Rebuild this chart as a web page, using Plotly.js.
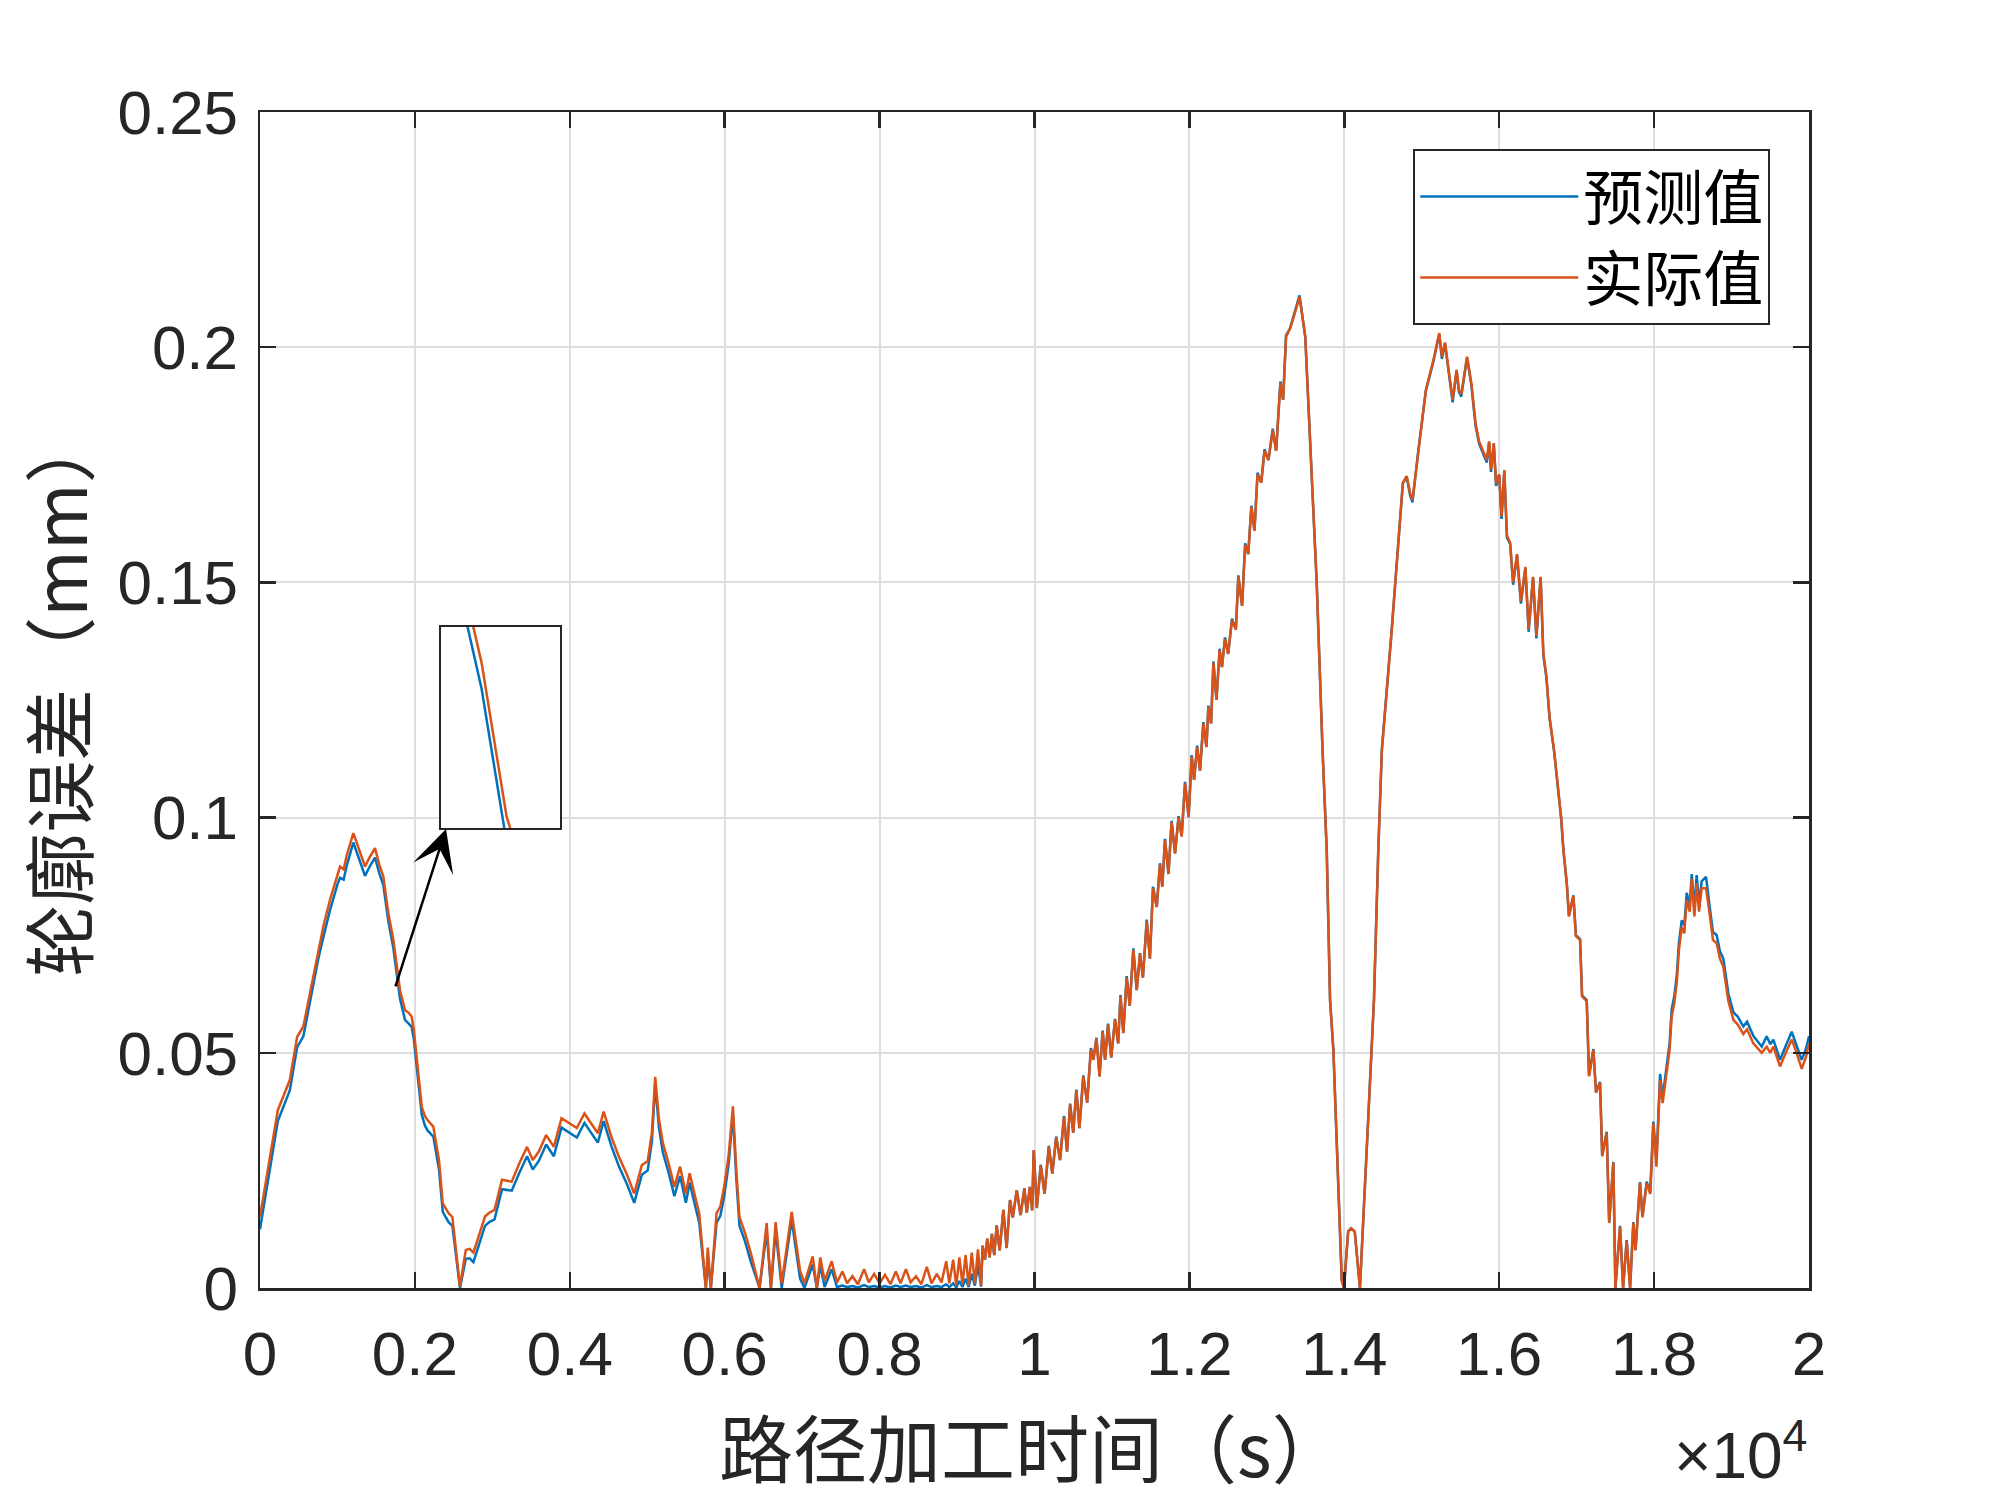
<!DOCTYPE html>
<html>
<head>
<meta charset="utf-8">
<script src="https://cdn.plot.ly/plotly-3.0.1.min.js"></script>
<style>html,body{margin:0;padding:0;background:#fff;}#chart{width:2000px;height:1500px;}</style>
</head>
<body>
<div id="chart"></div>
<script>
// ---- data (time in s, contour error in mm) ----
var seriesNames = ['预测值', '实际值'];
var xTickVals = [0, 2000, 4000, 6000, 8000, 10000, 12000, 14000, 16000, 18000, 20000];
var xTickText = ['0', '0.2', '0.4', '0.6', '0.8', '1', '1.2', '1.4', '1.6', '1.8', '2'];
var yTickVals = [0, 0.05, 0.1, 0.15, 0.2, 0.25];
var yTickText = ['0', '0.05', '0.1', '0.15', '0.2', '0.25'];

// Section A: 0 - 7400 s
var timeA = [0,90,230,385,480,560,645,750,817,904,1000,1033,1080,1120,1205,1280,1356,1420,1485,1540,
  1592,1657,1722,1808,1872,1920,1958,1985,2023,2060,2089,2130,2163,2238,2311,2360,2435,2484,2582,2657,
  2707,2756,2905,2960,3028,3125,3250,3349,3448,3522,3600,3695,3794,3893,3992,4091,4189,4280,4362,4437,
  4540,4634,4740,4832,4930,5006,5060,5103,5150,5202,5276,5350,5424,5499,5548,5610,5671,5757,5781,5821,
  5895,5943,5993,6050,6106,6150,6190,6264,6339,6450,6542,6597,6658,6736,6865,6973,7030,7136,7190,7234,
  7290,7381];
var actualA = [0.0151,0.0237,0.0378,0.0442,0.0534,0.0556,0.0627,0.0719,0.0768,0.0825,0.0880,0.0896,0.0890,0.0920,0.0967,0.0930,0.0896,0.0917,0.0935,0.0900,
  0.0875,0.0797,0.0740,0.0633,0.0591,0.0585,0.0577,0.0550,0.0485,0.0430,0.0385,0.0365,0.0357,0.0343,0.0272,0.0180,0.0159,0.0151,0.0003,0.0081,
  0.0083,0.0075,0.0152,0.0160,0.0166,0.0230,0.0226,0.0265,0.0300,0.0272,0.0290,0.0325,0.0300,0.0361,0.0350,0.0340,0.0371,0.0350,0.0329,0.0375,
  0.0320,0.0279,0.0240,0.0201,0.0261,0.0270,0.0330,0.0449,0.0360,0.0308,0.0265,0.0215,0.0258,0.0201,0.0244,0.0200,0.0159,0.0000,0.0086,0.0000,
  0.0159,0.0173,0.0215,0.0280,0.0386,0.0250,0.0151,0.0116,0.0073,0.0000,0.0138,0.0000,0.0140,0.0010,0.0162,0.0037,0.0010,0.0067,0.0000,0.0065,
  0.0015,0.0057];
var predictedA = [0.0125,0.0215,0.0355,0.0420,0.0512,0.0535,0.0605,0.0698,0.0745,0.0803,0.0858,0.0872,0.0868,0.0898,0.0947,0.0910,0.0876,0.0897,0.0915,0.0882,
  0.0857,0.0780,0.0722,0.0615,0.0570,0.0562,0.0555,0.0530,0.0465,0.0412,0.0368,0.0345,0.0335,0.0322,0.0252,0.0162,0.0140,0.0132,0.0000,0.0062,
  0.0063,0.0055,0.0132,0.0140,0.0146,0.0210,0.0207,0.0245,0.0280,0.0252,0.0270,0.0305,0.0280,0.0341,0.0330,0.0320,0.0351,0.0330,0.0309,0.0355,
  0.0300,0.0259,0.0220,0.0181,0.0241,0.0250,0.0312,0.0435,0.0342,0.0288,0.0245,0.0195,0.0238,0.0181,0.0224,0.0180,0.0139,0.0000,0.0066,0.0000,
  0.0139,0.0153,0.0195,0.0262,0.0370,0.0232,0.0133,0.0098,0.0055,0.0000,0.0120,0.0000,0.0122,0.0000,0.0145,0.0020,0.0000,0.0050,0.0000,0.0048,
  0.0002,0.0040];

// Section B: 7400 - 9310 s (near-zero noise)
var timeB = [7450,7520,7580,7650,7720,7800,7860,7930,8000,8070,8140,8210,8270,8340,8400,8470,8540,8610,8670,8740,
  8800,8860,8900,8950,8990,9030,9070,9110,9150,9190,9230,9270,9310];
var actualB = [0.0012,0.0035,0.0010,0.0025,0.0008,0.0040,0.0012,0.0030,0.0010,0.0028,0.0008,0.0035,0.0010,0.0040,0.0012,0.0025,0.0008,0.0045,0.0010,0.0030,
  0.0012,0.0057,0.0010,0.0060,0.0005,0.0065,0.0008,0.0070,0.0005,0.0075,0.0010,0.0082,0.0005];
var predictedB = [0.0002,0.0005,0.0002,0.0004,0.0001,0.0006,0.0002,0.0004,0.0001,0.0004,0.0001,0.0005,0.0002,0.0005,0.0002,0.0004,0.0001,0.0006,0.0002,0.0004,
  0.0002,0.0008,0.0002,0.0010,0.0001,0.0015,0.0002,0.0020,0.0002,0.0030,0.0005,0.0050,0.0003];

// Section C: 9330 - 17990 s (the two big lobes)
var timeC = [9330,9360,9390,9420,9450,9480,9512,9550,9598,9640,9684,9720,9771,9820,9870,9900,9940,9970,9990,10030,
  10080,10130,10185,10230,10280,10330,10381,10420,10460,10500,10540,10580,10630,10680,10728,10760,10800,10840,10880,10911,
  10950,10990,11040,11080,11110,11147,11190,11230,11276,11320,11362,11400,11449,11490,11530,11578,11620,11650,11685,11730,
  11770,11815,11860,11900,11944,11990,12030,12060,12100,12137,12180,12220,12245,12280,12310,12350,12390,12420,12460,12500,
  12550,12600,12632,12680,12720,12760,12800,12840,12880,12928,12970,13020,13076,13120,13175,13210,13248,13300,13348,13422,
  13496,13570,13644,13719,13773,13816,13859,13967,13995,14050,14087,14135,14202,14310,14383,14439,14485,14609,14707,14756,
  14805,14850,14880,14954,15053,15151,15226,15260,15300,15340,15399,15450,15480,15510,15550,15585,15640,15695,15740,15791,
  15840,15870,15894,15930,15960,16000,16030,16066,16100,16141,16180,16230,16280,16338,16380,16437,16480,16535,16570,16610,
  16650,16708,16760,16800,16829,16872,16900,16958,16990,17044,17070,17130,17160,17216,17250,17302,17330,17388,17420,17474,
  17500,17560,17600,17646,17690,17732,17760,17818,17850,17904,17950,17990];
var actualC = [0.0090,0.0060,0.0105,0.0065,0.0115,0.0070,0.0133,0.0080,0.0166,0.0085,0.0187,0.0150,0.0208,0.0155,0.0212,0.0160,0.0215,0.0165,0.0293,0.0170,
  0.0260,0.0200,0.0300,0.0243,0.0320,0.0272,0.0364,0.0290,0.0390,0.0330,0.0420,0.0340,0.0450,0.0394,0.0507,0.0485,0.0530,0.0450,0.0545,0.0485,
  0.0560,0.0490,0.0570,0.0520,0.0620,0.0542,0.0660,0.0600,0.0719,0.0633,0.0710,0.0660,0.0780,0.0700,0.0850,0.0810,0.0900,0.0853,0.0952,0.0880,
  0.0990,0.0924,0.1000,0.0960,0.1073,0.1001,0.1130,0.1080,0.1150,0.1100,0.1200,0.1150,0.1235,0.1200,0.1329,0.1250,0.1356,0.1320,0.1380,0.1348,
  0.1420,0.1400,0.1512,0.1450,0.1580,0.1560,0.1660,0.1610,0.1730,0.1712,0.1780,0.1760,0.1824,0.1780,0.1924,0.1888,0.2022,0.2040,0.2065,0.2107,
  0.2022,0.1767,0.1498,0.1144,0.0931,0.0612,0.0506,0.0017,0.0000,0.0120,0.0127,0.0120,0.0000,0.0364,0.0612,0.0931,0.1144,0.1392,0.1605,0.1711,
  0.1726,0.1690,0.1675,0.1780,0.1909,0.1973,0.2030,0.1980,0.2010,0.1960,0.1888,0.1952,0.1910,0.1900,0.1940,0.1980,0.1924,0.1838,0.1800,0.1780,
  0.1760,0.1800,0.1740,0.1796,0.1710,0.1730,0.1640,0.1739,0.1600,0.1584,0.1500,0.1560,0.1460,0.1533,0.1400,0.1512,0.1386,0.1512,0.1350,0.1299,
  0.1214,0.1144,0.1060,0.1000,0.0931,0.0860,0.0790,0.0833,0.0748,0.0740,0.0620,0.0610,0.0450,0.0506,0.0415,0.0436,0.0280,0.0330,0.0138,0.0266,
  0.0000,0.0130,0.0000,0.0100,0.0000,0.0138,0.0080,0.0223,0.0150,0.0223,0.0200,0.0350];
var predictedC = [0.0090,0.0060,0.0105,0.0065,0.0115,0.0070,0.0133,0.0080,0.0166,0.0085,0.0187,0.0150,0.0208,0.0155,0.0212,0.0160,0.0215,0.0165,0.0293,0.0170,
  0.0262,0.0200,0.0302,0.0243,0.0322,0.0272,0.0366,0.0290,0.0392,0.0330,0.0422,0.0340,0.0452,0.0394,0.0510,0.0485,0.0532,0.0450,0.0547,0.0485,
  0.0562,0.0490,0.0572,0.0520,0.0623,0.0542,0.0663,0.0600,0.0722,0.0633,0.0712,0.0660,0.0783,0.0700,0.0853,0.0810,0.0903,0.0853,0.0955,0.0880,
  0.0993,0.0924,0.1003,0.0960,0.1076,0.1001,0.1133,0.1080,0.1153,0.1100,0.1203,0.1150,0.1238,0.1200,0.1332,0.1250,0.1359,0.1320,0.1383,0.1348,
  0.1423,0.1400,0.1515,0.1450,0.1583,0.1560,0.1663,0.1610,0.1733,0.1712,0.1783,0.1760,0.1827,0.1780,0.1927,0.1888,0.2025,0.2040,0.2068,0.2110,
  0.2022,0.1767,0.1498,0.1144,0.0931,0.0612,0.0506,0.0017,0.0000,0.0120,0.0127,0.0120,0.0000,0.0364,0.0612,0.0931,0.1144,0.1392,0.1605,0.1711,
  0.1724,0.1685,0.1670,0.1778,0.1907,0.1970,0.2028,0.1975,0.2008,0.1955,0.1883,0.1950,0.1905,0.1895,0.1938,0.1978,0.1920,0.1833,0.1795,0.1775,
  0.1755,0.1798,0.1735,0.1794,0.1705,0.1728,0.1635,0.1737,0.1595,0.1582,0.1495,0.1558,0.1455,0.1531,0.1395,0.1510,0.1381,0.1510,0.1345,0.1297,
  0.1212,0.1142,0.1058,0.0998,0.0931,0.0862,0.0792,0.0835,0.0750,0.0742,0.0622,0.0612,0.0452,0.0508,0.0417,0.0438,0.0282,0.0332,0.0140,0.0268,
  0.0000,0.0132,0.0000,0.0102,0.0000,0.0140,0.0082,0.0225,0.0152,0.0226,0.0203,0.0354];

// Section D: 18030 - 20000 s
var timeD = [18030,18077,18110,18163,18200,18227,18260,18292,18320,18357,18390,18421,18460,18486,18520,18550,18580,18615,18671,18722,
  18760,18808,18850,18894,18930,18959,19024,19080,19152,19200,19281,19330,19390,19454,19500,19540,19626,19700,19777,19840,
  19906,19960,20000];
var actualD = [0.0258,0.0442,0.0393,0.0463,0.0506,0.0577,0.0605,0.0648,0.0718,0.0767,0.0754,0.0825,0.0800,0.0870,0.0790,0.0860,0.0800,0.0850,0.0850,0.0789,
  0.0740,0.0733,0.0700,0.0683,0.0640,0.0610,0.0570,0.0560,0.0540,0.0550,0.0520,0.0510,0.0500,0.0513,0.0500,0.0513,0.0471,0.0500,0.0528,0.0500,
  0.0466,0.0490,0.0520];
var predictedD = [0.0270,0.0455,0.0405,0.0478,0.0520,0.0592,0.0620,0.0663,0.0733,0.0782,0.0770,0.0840,0.0815,0.0880,0.0805,0.0878,0.0815,0.0865,0.0874,0.0805,
  0.0757,0.0750,0.0716,0.0700,0.0656,0.0626,0.0586,0.0577,0.0556,0.0566,0.0536,0.0526,0.0513,0.0535,0.0518,0.0528,0.0485,0.0515,0.0545,0.0515,
  0.0485,0.0508,0.0535];

var time = timeA.concat(timeB, timeC, timeD);
var actual = actualA.concat(actualB, actualC, actualD);
var predicted = predictedA.concat(predictedB, predictedC, predictedD);

// ---- styling ----
var BLUE = '#0072BD', ORANGE = '#D95319', AX = '#262626';
var latin = 'Liberation Sans, Arial, Helvetica, sans-serif';
var cjk = 'Noto Sans CJK SC, sans-serif';

var traces = [
  {x: time, y: predicted, type: 'scatter', mode: 'lines', name: seriesNames[0],
   line: {color: BLUE, width: 2.5}, xaxis: 'x', yaxis: 'y'},
  {x: time, y: actual, type: 'scatter', mode: 'lines', name: seriesNames[1],
   line: {color: ORANGE, width: 2.5}, xaxis: 'x', yaxis: 'y'},
  {x: time, y: predicted, type: 'scatter', mode: 'lines', showlegend: false,
   line: {color: BLUE, width: 2.5}, xaxis: 'x2', yaxis: 'y2'},
  {x: time, y: actual, type: 'scatter', mode: 'lines', showlegend: false,
   line: {color: ORANGE, width: 2.5}, xaxis: 'x2', yaxis: 'y2'}
];

var axCommon = {
  showline: true, mirror: 'ticks', linecolor: AX, linewidth: 2.5,
  ticks: 'inside', ticklen: 16, tickwidth: 2.5, tickcolor: AX,
  showgrid: true, gridcolor: '#dedede', gridwidth: 2, zeroline: false,
  tickfont: {family: latin, size: 62, color: AX}
};

var layout = {
  width: 2000, height: 1500,
  margin: {l: 260, r: 191, t: 112, b: 212},
  paper_bgcolor: '#ffffff', plot_bgcolor: '#ffffff',
  showlegend: true,
  xaxis: Object.assign({}, axCommon, {
    range: [0, 20000], tickmode: 'array', tickvals: xTickVals, ticktext: xTickText,
    ticklabelstandoff: 10, domain: [0, 1]
  }),
  yaxis: Object.assign({}, axCommon, {
    range: [0, 0.25], tickmode: 'array', tickvals: yTickVals, ticktext: yTickText,
    ticklabelstandoff: 7, domain: [0, 1]
  }),
  xaxis2: {
    domain: [0.1168, 0.1937], anchor: 'y2', range: [1582, 1992],
    showline: true, mirror: true, linecolor: AX, linewidth: 2,
    ticks: '', showticklabels: false, showgrid: false, zeroline: false
  },
  yaxis2: {
    domain: [0.3912, 0.5621], anchor: 'x2', range: [0.0625, 0.0765],
    showline: true, mirror: true, linecolor: AX, linewidth: 2,
    ticks: '', showticklabels: false, showgrid: false, zeroline: false
  },
  legend: {
    x: 0.975, y: 0.9685, xanchor: 'right', yanchor: 'top',
    bgcolor: '#ffffff', bordercolor: AX, borderwidth: 2,
    font: {family: cjk, size: 60, color: '#000000'},
    itemwidth: 158, tracegroupgap: 0
  },
  annotations: [
    {xref: 'paper', yref: 'paper', x: 0.499, y: -0.1327, xanchor: 'center', yanchor: 'middle',
     text: '路径加工时间（s）', showarrow: false, font: {family: cjk, size: 74, color: AX}},
    {xref: 'paper', yref: 'paper', x: -0.132, y: 0.505, xanchor: 'center', yanchor: 'middle',
     text: '轮廓误差（mm）', textangle: -90, showarrow: false, font: {family: cjk, size: 72, color: AX}},
    {xref: 'paper', yref: 'paper', x: 1.0, y: -0.139, xanchor: 'right', yanchor: 'middle',
     text: '×10<sup>4</sup>', showarrow: false, font: {family: latin, size: 64, color: AX}},
    {xref: 'x', yref: 'y', x: 2402, y: 0.0976, axref: 'x', ayref: 'y', ax: 1743, ay: 0.0638,
     text: '', showarrow: true, arrowhead: 3, arrowsize: 2.8, arrowwidth: 2.5, arrowcolor: '#000000', standoff: 0}
  ]
};

Plotly.newPlot('chart', traces, layout, {staticPlot: true, displayModeBar: false});
</script>
</body>
</html>
